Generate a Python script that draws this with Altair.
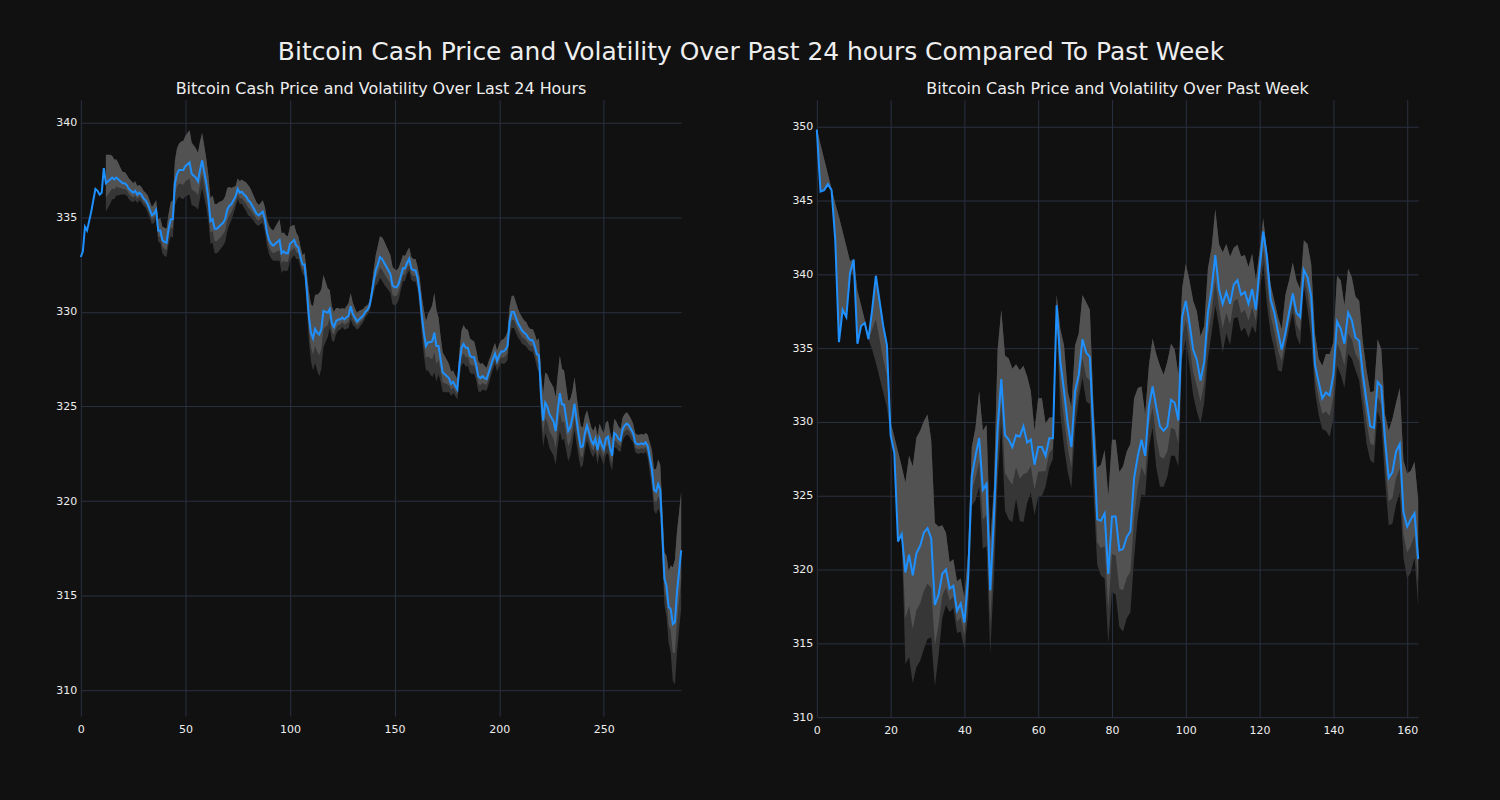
import altair as alt
import pandas as pd

# ---------------- data: last 24 hours (5-minute steps) ----------------
price_24h = [
    332.9, 333.2, 334.5, 334.3, 334.8, 335.3, 335.9, 336.5, 336.4, 336.2,
    336.3, 337.6, 336.8, 336.9, 337.0, 337.1, 337.0, 337.1, 337.0, 336.9,
    336.8, 336.8, 336.7, 336.5, 336.4, 336.3, 336.4, 336.2, 336.3, 336.2,
    336.0, 335.9, 335.7, 335.4, 335.1, 335.2, 335.4, 334.3, 334.3, 333.8,
    333.7, 333.65, 334.4, 334.9, 334.9, 336.8, 337.3, 337.5, 337.5, 337.5,
    337.7, 337.8, 337.9, 337.3, 337.2, 337.1, 336.9, 337.5, 338.0, 337.4,
    336.8, 336.0, 334.8, 334.9, 334.4, 334.4, 334.5, 334.6, 334.7, 334.9,
    335.4, 335.6, 335.7, 335.9, 336.1, 336.5, 336.3, 336.35, 336.2, 336.1,
    335.9, 335.8, 335.6, 335.4, 335.2, 335.1, 335.2, 335.3, 334.9, 334.2,
    333.8, 333.6, 333.5, 333.6, 333.7, 333.8, 333.1, 333.2, 333.1, 333.1,
    333.6, 333.7, 333.8, 333.5, 333.4, 332.9, 332.5, 332.5, 331.2, 329.8,
    328.9, 328.6, 329.1, 328.9, 328.8, 329.1, 330.05, 330.0, 329.95, 330.15,
    329.4, 329.2, 329.5, 329.6, 329.6, 329.7, 329.6, 329.7, 329.8, 330.3,
    329.9, 329.7, 329.5, 329.6, 329.7, 329.8, 330.0, 330.1, 330.3, 330.9,
    331.6, 332.2, 332.5, 332.9, 332.8, 332.6, 332.4, 332.2, 332.0, 331.4,
    331.3, 331.3, 331.5, 331.9, 332.3, 332.3, 332.6, 332.8, 332.3, 332.2,
    332.2, 331.8, 331.0, 329.8, 328.9, 328.2, 328.4, 328.4, 328.45, 328.9,
    328.2, 328.2, 327.5, 326.8, 326.7, 326.6, 326.5, 326.2, 326.3, 326.1,
    325.9, 327.2, 328.1, 328.3, 328.1, 328.1, 327.7, 327.6, 327.6, 327.2,
    326.6, 326.5, 326.6, 326.5, 326.45, 326.8, 327.15, 327.5, 327.8, 327.4,
    327.7, 327.9, 327.9, 328.0, 328.2, 329.5, 330.0, 330.0, 329.7, 329.4,
    329.2, 329.0, 328.9, 328.8, 328.6, 328.5, 328.5, 328.2, 327.77, 327.7,
    325.6, 324.25, 325.2, 325.0, 324.6, 324.4, 324.2, 323.7, 324.8, 325.7,
    325.1, 325.1, 324.4, 323.7, 323.9, 324.4, 325.15, 324.3, 323.5, 322.85,
    322.9, 323.6, 324.0, 323.6, 323.2, 323.0, 323.3, 322.7, 323.3, 323.0,
    322.75, 323.3, 323.4, 322.8, 322.4, 323.6, 323.5, 323.3, 323.2, 323.8,
    324.0, 324.1, 324.0, 323.8, 323.6, 323.1, 323.0, 323.0, 323.05, 323.0,
    323.1, 322.9, 322.3, 321.7, 320.6, 320.5, 320.9, 320.6, 318.2, 315.9,
    315.5, 314.4, 314.3, 313.5, 313.6, 315.2, 316.3, 317.4,
]

vol_24h = [
    None, None, None, None, None, None, None, None, None, None,
    None, None, 1.5, 1.4, 1.3, 1.15, 1.05, 0.95, 0.85, 0.7,
    0.6, 0.6, 0.55, 0.55, 0.55, 0.5, 0.5, 0.45, 0.4, 0.4,
    0.4, 0.4, 0.45, 0.45, 0.45, 0.5, 0.5, 0.6, 0.65, 0.7,
    0.75, 0.75, 0.8, 0.9, 1.0, 1.2, 1.35, 1.4, 1.5, 1.55,
    1.6, 1.65, 1.7, 1.65, 1.6, 1.55, 1.5, 1.5, 1.45, 1.4,
    1.3, 1.2, 1.2, 1.25, 1.3, 1.3, 1.3, 1.25, 1.2, 1.2,
    1.15, 1.0, 0.85, 0.7, 0.55, 0.55, 0.6, 0.65, 0.7, 0.75,
    0.8, 0.75, 0.7, 0.65, 0.6, 0.55, 0.55, 0.6, 0.65, 0.7,
    0.75, 0.78, 0.8, 0.9, 1.0, 1.1, 1.05, 1.0, 0.95, 0.9,
    0.9, 0.85, 0.8, 0.7, 0.6, 0.55, 0.5, 0.6, 0.9, 1.3,
    1.5, 1.7, 1.8, 2.0, 2.2, 2.1, 1.9, 1.6, 1.3, 1.0,
    0.9, 0.8, 0.7, 0.6, 0.55, 0.5, 0.55, 0.6, 0.65, 0.7,
    0.6, 0.5, 0.45, 0.45, 0.4, 0.35, 0.3, 0.25, 0.25, 0.4,
    0.6, 0.8, 1.0, 1.1, 1.15, 1.15, 1.1, 1.05, 1.0, 1.0,
    0.95, 0.9, 0.85, 0.75, 0.7, 0.65, 0.6, 0.6, 0.6, 0.6,
    0.6, 0.6, 0.8, 1.0, 1.2, 1.3, 1.5, 1.7, 1.9, 2.1,
    1.9, 1.5, 1.2, 1.05, 0.95, 0.85, 0.75, 0.65, 0.6, 0.55,
    0.55, 0.7, 0.9, 1.0, 1.0, 0.95, 0.9, 0.9, 0.85, 0.8,
    0.8, 0.75, 0.7, 0.65, 0.6, 0.6, 0.55, 0.55, 0.55, 0.55,
    0.6, 0.6, 0.65, 0.7, 0.75, 0.8, 0.85, 0.85, 0.8, 0.75,
    0.7, 0.7, 0.65, 0.65, 0.6, 0.6, 0.6, 0.65, 0.7, 0.9,
    1.2, 1.4, 1.6, 1.7, 1.8, 1.8, 1.8, 1.8, 1.9, 2.0,
    1.9, 1.8, 1.7, 1.6, 1.5, 1.4, 1.4, 1.3, 1.2, 1.1,
    1.0, 0.9, 0.8, 0.75, 0.7, 0.7, 0.7, 0.75, 0.8, 0.8,
    0.85, 0.85, 0.85, 0.85, 0.8, 0.75, 0.7, 0.65, 0.6, 0.6,
    0.6, 0.6, 0.55, 0.55, 0.5, 0.5, 0.5, 0.5, 0.5, 0.5,
    0.5, 0.6, 0.8, 1.0, 1.1, 1.2, 1.3, 1.3, 1.35, 1.4,
    1.6, 1.9, 2.3, 3.0, 3.3, 3.2, 3.1, 3.1,
]

# ---------------- data: past week (hourly steps) ----------------
price_week = [
    349.8, 345.6, 345.7, 346.1, 345.7, 342.3, 335.4, 337.6, 337.1, 340.1,
    341.0, 335.3, 336.5, 336.7, 335.6, 337.6, 339.9, 338.2, 336.5, 335.2,
    329.1, 327.9, 321.9, 322.4, 319.8, 321.0, 319.6, 321.1, 321.6, 322.5,
    322.8, 322.1, 317.6, 318.3, 319.7, 320.0, 318.7, 318.9, 317.2, 317.7,
    316.4, 319.4, 326.3, 327.7, 328.9, 325.4, 325.8, 318.6, 323.6, 329.6,
    332.9, 329.1, 328.8, 328.3, 329.1, 329.0, 329.7, 328.6, 328.8, 327.1,
    328.3, 328.3, 327.7, 328.9, 328.9, 337.9, 334.1, 332.1, 329.9, 328.3,
    332.1, 333.2, 335.6, 334.7, 334.4, 329.1, 323.4, 323.3, 323.8, 319.7,
    323.6, 323.6, 321.3, 321.4, 322.2, 322.6, 326.2, 327.7, 328.8, 327.7,
    331.0, 332.4, 331.0, 329.7, 329.4, 329.7, 331.5, 331.3, 330.1, 337.1,
    338.2, 336.7, 334.9, 334.2, 332.8, 334.1, 337.4, 339.0, 341.3, 339.0,
    338.0, 338.8, 338.0, 339.3, 339.6, 338.6, 338.8, 338.0, 339.0, 337.6,
    340.4, 342.9, 341.2, 338.3, 337.4, 336.1, 334.9, 336.0, 337.4, 338.7,
    337.4, 337.1, 340.3, 339.8, 338.5, 333.9, 332.7, 331.6, 332.0, 331.8,
    333.2, 336.8, 336.3, 335.3, 337.4, 336.9, 335.7, 335.5, 333.2, 331.4,
    329.7, 329.6, 332.7, 332.4, 328.8, 326.2, 326.6, 328.0, 328.5, 323.9,
    322.9, 323.4, 323.8, 320.7,
]

upper_week = [
    349.9, 348.8, 347.8, 346.8, 345.8, 344.8, 343.9, 342.9, 341.9, 340.9,
    341.0, 338.9, 337.9, 336.9, 335.9, 337.6, 339.9, 338.2, 336.5, 335.2,
    330.0, 329.0, 328.0, 327.0, 325.9, 327.7, 327.0, 328.95, 329.4, 330.05,
    330.5, 328.8, 323.15, 322.9, 323.0, 322.5, 320.5, 320.7, 319.2, 319.4,
    318.1, 321.1, 328.3, 329.6, 332.1, 329.4, 329.8, 321.9, 325.5, 334.9,
    337.6, 334.5, 334.3, 333.6, 333.9, 333.5, 333.8, 333.1, 332.1, 329.4,
    331.6, 331.6, 329.9, 330.3, 330.3, 338.6, 336.3, 335.2, 332.1, 331.0,
    335.2, 336.0, 338.6, 338.1, 337.6, 331.0, 326.9, 327.1, 328.1, 325.0,
    328.8, 328.8, 326.6, 327.0, 328.0, 328.5, 331.6, 332.3, 332.4, 330.5,
    333.8, 335.65, 334.6, 333.8, 333.2, 334.1, 335.3, 334.9, 333.2, 339.0,
    340.7, 339.6, 338.2, 337.5, 335.8, 336.5, 340.4, 341.8, 344.4, 342.05,
    341.5, 342.05, 341.2, 341.8, 342.0, 341.2, 341.3, 340.5, 341.4, 339.6,
    341.6, 343.8, 341.5, 339.3, 338.2, 337.1, 336.3, 338.6, 339.6, 340.8,
    339.6, 339.0, 342.3, 342.05, 340.7, 336.0, 334.3, 333.8, 334.6, 334.6,
    335.4, 339.9, 339.6, 337.9, 340.4, 339.8, 338.5, 338.2, 335.4, 333.5,
    332.0, 332.1, 335.6, 334.9, 330.5, 329.4, 330.2, 331.3, 332.3, 327.4,
    326.5, 326.7, 327.3, 324.7,
]

lower_week = [
    349.7, 345.6, 345.7, 346.1, 345.7, 342.3, 335.4, 337.6, 337.1, 340.1,
    339.9, 335.3, 336.5, 336.7, 335.6, 334.9, 334.0, 333.0, 332.0, 331.0,
    329.1, 327.9, 321.9, 322.4, 313.6, 314.05, 312.3, 313.4, 313.8, 314.6,
    315.3, 315.4, 312.1, 314.2, 316.7, 317.6, 317.1, 317.4, 315.7, 315.8,
    314.6, 317.0, 324.3, 324.7, 325.6, 321.4, 321.6, 314.3, 319.4, 326.1,
    329.9, 324.0, 323.4, 323.2, 324.8, 323.3, 323.2, 324.5, 325.2, 323.7,
    324.95, 325.0, 325.6, 326.9, 327.5, 337.2, 330.5, 328.3, 326.6, 325.5,
    329.6, 331.6, 333.0, 331.4, 331.2, 325.2, 320.3, 319.6, 319.4, 315.0,
    318.5, 318.3, 316.1, 315.8, 316.7, 317.1, 320.8, 323.6, 325.1, 325.0,
    328.3, 329.6, 326.9, 325.6, 325.6, 326.3, 327.7, 327.7, 327.0, 334.3,
    335.6, 333.8, 331.8, 330.7, 329.9, 331.3, 334.3, 336.0, 337.9, 336.5,
    334.7, 336.0, 335.2, 337.0, 337.1, 336.1, 336.4, 335.7, 336.5, 336.0,
    338.75, 340.7, 337.9, 336.0, 334.9, 333.5, 333.4, 334.9, 336.3, 337.4,
    335.8, 335.2, 339.2, 337.6, 335.7, 332.1, 330.5, 329.5, 329.4, 329.0,
    330.2, 333.8, 333.2, 332.3, 334.6, 334.3, 333.5, 332.8, 330.7, 328.5,
    327.4, 327.2, 330.7, 329.9, 326.1, 323.0, 323.1, 324.4, 325.2, 320.8,
    319.4, 319.8, 320.8, 317.5,
]

ticks_24h_x = [0, 50, 100, 150, 200, 250]
ticks_24h_y = [310, 315, 320, 325, 330, 335, 340]
ticks_week_x = [0, 20, 40, 60, 80, 100, 120, 140, 160]
ticks_week_y = [310, 315, 320, 325, 330, 335, 340, 345, 350]

main_title = "Bitcoin Cash Price and Volatility Over Past 24 hours Compared To Past Week"
title_24h = "Bitcoin Cash Price and Volatility Over Last 24 Hours"
title_week = "Bitcoin Cash Price and Volatility Over Past Week"

# ---------------- styling ----------------
BG = "#111111"
TXT = "#eeeeee"
GRID = "#2a3140"
LINE = "#1e90ff"
BAND_DARK = "#363636"
BAND_LIGHT = "#525252"
FONT = "DejaVu Sans"


def build_frames(price, upper, lower):
    n = len(price)
    df = pd.DataFrame({"i": list(range(n)), "price": price})
    band = pd.DataFrame({"i": list(range(n)), "price": price,
                         "upper": upper, "lower": lower}).dropna()
    band["mid"] = (band["price"] + band["lower"]) / 2.0
    return df, band


up24 = [None if v is None else p + v for p, v in zip(price_24h, vol_24h)]
lo24 = [None if v is None else p - v for p, v in zip(price_24h, vol_24h)]
df24, band24 = build_frames(price_24h, up24, lo24)
dfwk, bandwk = build_frames(price_week, upper_week, lower_week)


def panel(df, band, title, xdom, ydom, xticks, yticks, w, h):
    x = alt.X("i:Q", scale=alt.Scale(domain=xdom, nice=False, zero=False),
              axis=alt.Axis(values=xticks, title=None, grid=True, domain=False,
                            ticks=False, labelPadding=7, labelFlush=False))
    y_axis = alt.Axis(values=yticks, title=None, grid=True, domain=False,
                      ticks=False, labelPadding=4)
    ysc = alt.Scale(domain=ydom, nice=False, zero=False)
    dark = alt.Chart(band).mark_area(color=BAND_DARK, opacity=1).encode(
        x=x, y=alt.Y("lower:Q", scale=ysc, axis=y_axis), y2="upper:Q")
    light = alt.Chart(band).mark_area(color=BAND_LIGHT, opacity=1).encode(
        x="i:Q", y="mid:Q", y2="upper:Q")
    line = alt.Chart(df).mark_line(color=LINE, strokeWidth=2).encode(
        x="i:Q", y="price:Q")
    return alt.layer(dark, light, line).properties(
        width=w, height=h,
        title=alt.TitleParams(title, fontSize=16, color=TXT, font=FONT,
                              fontWeight="normal", offset=3))


left = panel(df24, band24, title_24h, [0, 287], [308.63, 341.21],
             ticks_24h_x, ticks_24h_y, 602, 618)
right = panel(dfwk, bandwk, title_week, [0, 163], [310.0, 351.82],
              ticks_week_x, ticks_week_y, 603, 619)

chart = alt.hconcat(left, right, spacing=107).properties(
    title=alt.TitleParams(main_title, fontSize=25, color=TXT, font=FONT,
                          fontWeight="normal", anchor="middle", offset=16,
                          dx=12),
    background=BG,
    padding={"left": 56, "top": 39, "right": 78, "bottom": 66},
).configure_view(stroke=None, fill=BG).configure_axis(
    gridColor=GRID, gridWidth=1, gridOpacity=1,
    labelColor=TXT, labelFont=FONT, labelFontSize=11,
).configure_title(font=FONT)

chart.save("out.html", embed_options={"renderer": "svg", "actions": False})
